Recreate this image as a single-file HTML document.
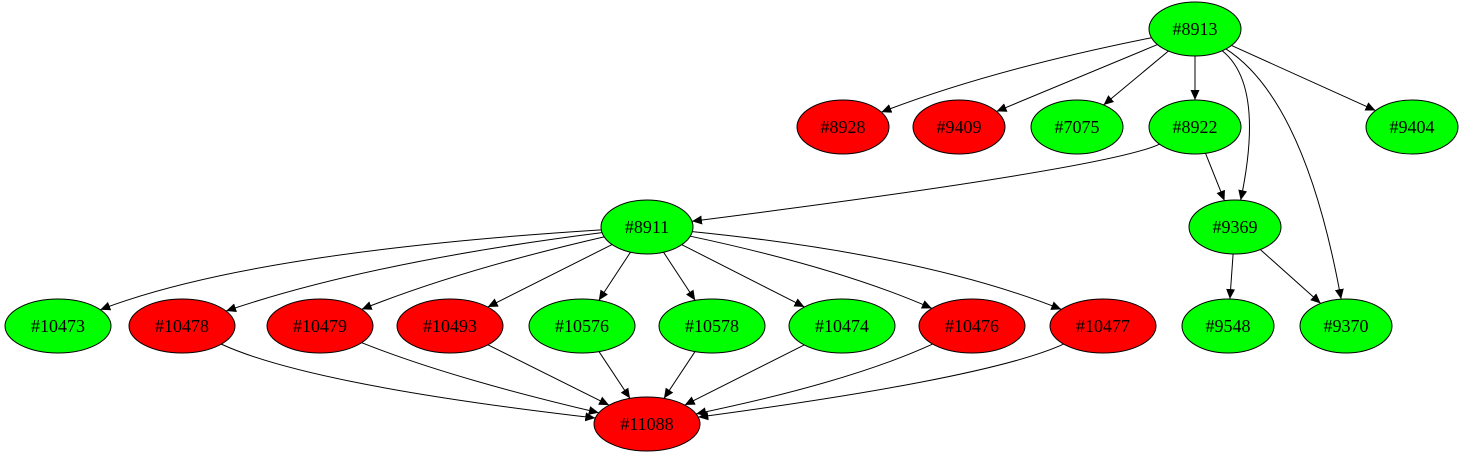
<!DOCTYPE html>
<html><head><meta charset="utf-8"><style>
html,body{margin:0;padding:0;background:#fff;}
svg{display:block;}
text{font-family:"Liberation Serif",serif;font-size:18px;}
</style></head><body>
<svg id="g" width="1465" height="456" viewBox="0 0 1465 456" xmlns="http://www.w3.org/2000/svg">
<defs><marker id="a" markerUnits="userSpaceOnUse" markerWidth="12" markerHeight="10" refX="10" refY="4.5" orient="auto"><path d="M0,0 L10,4.5 L0,9 Z" fill="#000"/></marker></defs>
<g id="e"></g><g id="n"></g>
</svg>
<script>
var N={
'8913':[1195,29,'g'],'8928':[843,127,'r'],'9409':[959,127,'r'],'7075':[1077,127,'g'],'8922':[1195,127,'g'],'9404':[1412,127,'g'],
'8911':[647,227,'g'],'9369':[1235,227,'g'],
'10473':[58,326,'g'],'10478':[182,326,'r'],'10479':[320,326,'r'],'10493':[450,326,'r'],'10576':[582,326,'g'],'10578':[712,326,'g'],
'10474':[842,326,'g'],'10476':[972,326,'r'],'10477':[1103,326,'r'],'9548':[1228,326,'g'],'9370':[1346,326,'g'],'11088':[647,424,'r']};
var E=[['8913','8928',[990,70]],['8913','9409'],['8913','7075'],['8913','8922'],['8913','9404'],
['8913','9369',[1265,85]],['8913','9370',[1305,100]],['8922','8911',[1110,168]],['8922','9369'],['9369','9548'],['9369','9370'],
['8911','10473',[250,252]],['8911','10478',[370,262]],['8911','10479',[460,270]],['8911','10493'],['8911','10576'],['8911','10578'],
['8911','10474'],['8911','10476',[840,268]],['8911','10477',[925,255]],
['10478','11088',[310,385]],['10479','11088',[450,378]],['10493','11088'],['10576','11088'],['10578','11088'],['10474','11088'],
['10476','11088',[850,382]],['10477','11088',[990,378]]];
function rx(k){return k.length>4?53:46;}var RY=27;
function bp(k,tx,ty){var c=N[k],dx=tx-c[0],dy=ty-c[1],r=rx(k),t=1/Math.sqrt(dx*dx/(r*r)+dy*dy/(RY*RY));return [c[0]+dx*t,c[1]+dy*t];}
var eh='',nh='';
E.forEach(function(e){var s=N[e[0]],t=N[e[1]],c=e[2];
var p1=c?bp(e[0],c[0],c[1]):bp(e[0],t[0],t[1]);var p2=c?bp(e[1],c[0],c[1]):bp(e[1],s[0],s[1]);
var d=c?'M'+p1+' Q'+c+' '+p2:'M'+p1+' L'+p2;
eh+='<path d="'+d+'" fill="none" stroke="#000" stroke-width="1" marker-end="url(#a)"/>';});
for(var k in N){var c=N[k];nh+='<ellipse cx="'+c[0]+'" cy="'+c[1]+'" rx="'+rx(k)+'" ry="'+RY+'" fill="'+(c[2]=='g'?'#00ff00':'#ff0000')+'" stroke="#000"/><text x="'+c[0]+'" y="'+(c[1]+6)+'" text-anchor="middle">#'+k+'</text>';}
document.getElementById('e').innerHTML=eh;document.getElementById('n').innerHTML=nh;
</script>
</body></html>
